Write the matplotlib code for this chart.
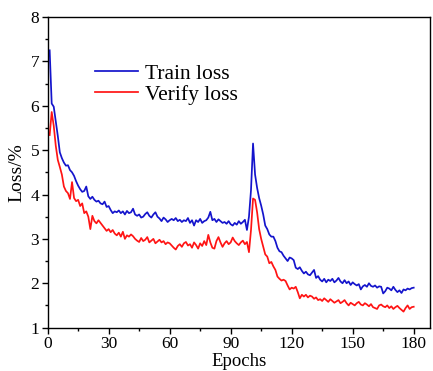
import matplotlib.pyplot as plt
from matplotlib.ticker import MultipleLocator

plt.rcParams['font.family'] = ['Liberation Serif', 'DejaVu Serif']

# epochs 1..180
epochs = list(range(1, 181))

train_loss = [
    7.25, 6.05, 5.98, 5.65, 5.32, 4.95, 4.82, 4.72, 4.65, 4.66,
    4.55, 4.50, 4.42, 4.30, 4.20, 4.12, 4.06, 4.08, 4.18, 3.96,
    3.90, 3.95, 3.88, 3.84, 3.86, 3.80, 3.78, 3.84, 3.72, 3.74,
    3.65, 3.58, 3.62, 3.60, 3.64, 3.58, 3.62, 3.55, 3.63, 3.58,
    3.60, 3.68, 3.55, 3.52, 3.55, 3.48, 3.50, 3.56, 3.60, 3.52,
    3.48, 3.55, 3.60, 3.50, 3.46, 3.40, 3.48, 3.44, 3.38, 3.42,
    3.45, 3.42, 3.47, 3.40, 3.43, 3.38, 3.42, 3.40, 3.47, 3.36,
    3.42, 3.30, 3.42, 3.38, 3.45, 3.36, 3.40, 3.42, 3.48, 3.61,
    3.42, 3.45, 3.38, 3.44, 3.40, 3.36, 3.38, 3.34, 3.40, 3.33,
    3.30, 3.36, 3.32, 3.40, 3.34, 3.38, 3.43, 3.20, 3.50, 4.10,
    5.15, 4.45, 4.15, 3.92, 3.75, 3.55, 3.30, 3.22, 3.10, 3.05,
    3.05, 2.95, 2.80, 2.72, 2.70, 2.62, 2.56, 2.50, 2.58, 2.56,
    2.52, 2.35, 2.32, 2.36, 2.28, 2.22, 2.26, 2.20, 2.18, 2.24,
    2.30, 2.12, 2.16, 2.08, 2.04, 2.10, 2.02, 2.08, 2.05, 2.10,
    2.02, 2.06, 2.12, 2.04, 2.00, 2.07, 2.00, 2.04, 1.96, 2.02,
    1.98, 1.95, 1.98, 1.86, 1.93, 1.96, 1.92, 2.00, 1.94, 1.92,
    1.95, 1.90, 1.93, 1.92, 1.77, 1.82, 1.90, 1.88, 1.84, 1.92,
    1.85, 1.80, 1.84, 1.78, 1.86, 1.84, 1.88, 1.86, 1.89, 1.90,
]

verify_loss = [
    5.34, 5.86, 5.55, 5.10, 4.78, 4.62, 4.45, 4.18, 4.08, 4.03,
    3.90, 4.28, 3.92, 3.85, 3.88, 3.74, 3.80, 3.58, 3.62, 3.50,
    3.22, 3.52, 3.40, 3.35, 3.42, 3.36, 3.30, 3.24, 3.18, 3.22,
    3.15, 3.20, 3.12, 3.08, 3.14, 3.05, 3.16, 3.00, 3.08, 3.05,
    3.10, 3.06, 3.00, 2.96, 2.93, 3.02, 2.95, 2.98, 3.04, 2.92,
    2.96, 3.00, 2.90, 2.94, 2.98, 2.92, 2.95, 2.88, 2.92, 2.90,
    2.85, 2.80, 2.76, 2.84, 2.88, 2.82, 2.90, 2.93, 2.85, 2.88,
    2.80, 2.92, 2.86, 2.78, 2.90, 2.84, 2.95, 2.86, 3.09, 2.92,
    2.80, 2.78, 2.95, 3.04, 2.92, 2.82, 2.90, 2.95, 2.88, 2.92,
    3.03, 2.95, 2.90, 2.86, 2.92, 2.96, 2.88, 2.93, 2.70, 3.20,
    3.91, 3.88, 3.60, 3.22, 3.00, 2.82, 2.65, 2.60, 2.45, 2.48,
    2.38, 2.30, 2.15, 2.10, 2.06, 2.08, 2.05, 1.95, 1.86, 1.90,
    1.88, 1.92, 1.80, 1.66, 1.74, 1.70, 1.74, 1.68, 1.72, 1.70,
    1.65, 1.68, 1.62, 1.64, 1.60, 1.66, 1.62, 1.58, 1.64, 1.60,
    1.56, 1.59, 1.62, 1.55, 1.58, 1.62, 1.55, 1.50, 1.56, 1.53,
    1.50, 1.55, 1.58, 1.52, 1.50, 1.55, 1.52, 1.48, 1.53, 1.46,
    1.44, 1.42, 1.50, 1.52, 1.48, 1.46, 1.50, 1.44, 1.48, 1.42,
    1.46, 1.49, 1.44, 1.40, 1.36, 1.44, 1.50, 1.42, 1.46, 1.47,
]

fig = plt.figure(figsize=(4.33, 3.71), dpi=100)
ax = fig.add_axes([0.110, 0.117, 0.883, 0.837])

ax.plot(epochs, train_loss, color='#1414cc', lw=1.25, label='Train loss')
ax.plot(epochs, verify_loss, color='#ff1414', lw=1.25, label='Verify loss')

ax.set_xlim(0, 188)
ax.set_ylim(1, 8)
ax.xaxis.set_major_locator(MultipleLocator(30))
ax.xaxis.set_minor_locator(MultipleLocator(15))
ax.yaxis.set_major_locator(MultipleLocator(1))
ax.yaxis.set_minor_locator(MultipleLocator(0.5))
ax.tick_params(which='major', direction='out', length=4, width=1, labelsize=12.5, pad=2)
ax.tick_params(which='minor', direction='out', length=2.5, width=1)
for s in ax.spines.values():
    s.set_linewidth(1.0)

ax.set_xlabel('Epochs', fontsize=13.5, labelpad=1)
ax.set_ylabel('Loss/%', fontsize=14, labelpad=4)

ax.legend(loc='upper left', bbox_to_anchor=(0.074, 0.912), frameon=False,
          fontsize=15.5, handlelength=2.0, handletextpad=0.3, labelspacing=0.05)

fig.savefig('out.png', dpi=100)
